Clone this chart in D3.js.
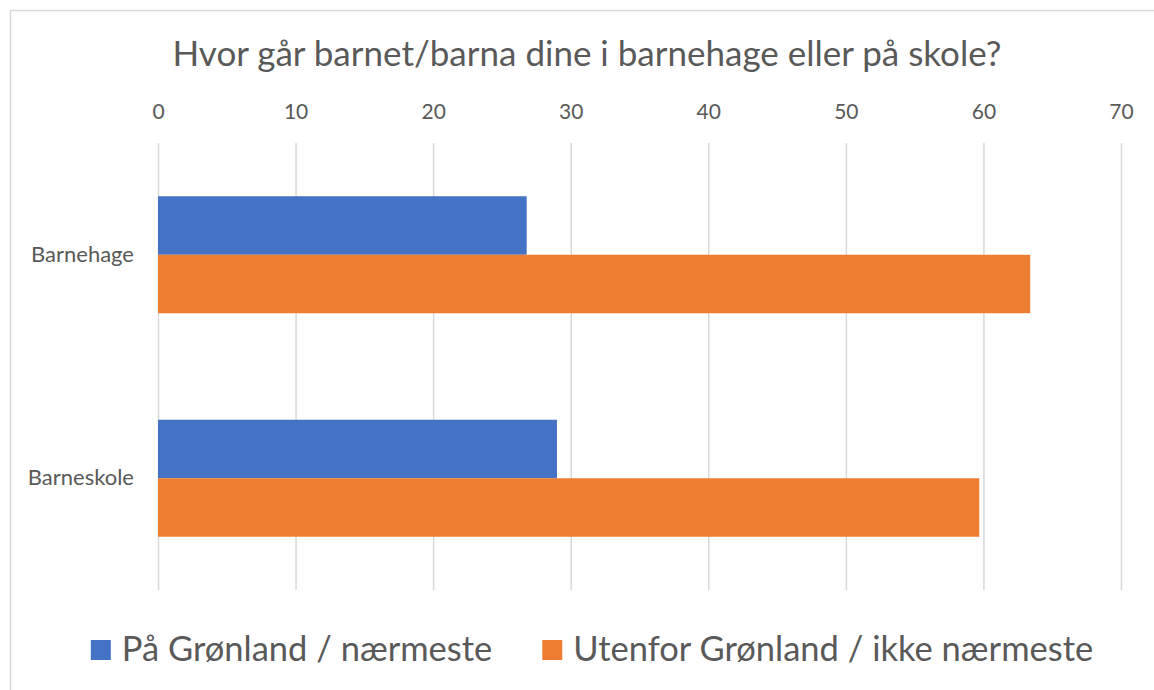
<!DOCTYPE html>
<html>
<head>
<meta charset="utf-8">
<script src="https://cdn.jsdelivr.net/npm/d3@7"></script>
<style>
  body { margin: 0; background: #fff; }
  text { font-family: Lato, "Open Sans", sans-serif; fill: #595959; }
</style>
</head>
<body>
<svg id="chart" width="1154" height="690"></svg>
<script>
// data
var title = "Hvor går barnet/barna dine i barnehage eller på skole?";
var categories = ["Barnehage", "Barneskole"];
var seriesNames = ["På Grønland / nærmeste", "Utenfor Grønland / ikke nærmeste"];
var paaGronland = [26.8, 29.0];
var utenforGronland = [63.4, 59.7];
var xTicks = [0, 10, 20, 30, 40, 50, 60, 70];

var colors = ["#4472C4", "#ED7D31"];
var seriesValues = [paaGronland, utenforGronland];

var svg = d3.select("#chart"),
    margin = {top: 143, right: 33, bottom: 100, left: 158},
    width = +svg.attr("width"),
    height = +svg.attr("height");

// chart border (runs off the right and bottom edge like the original)
svg.append("rect")
    .attr("x", 10.5)
    .attr("y", 10.5)
    .attr("width", width + 20)
    .attr("height", height + 20)
    .attr("fill", "#fff")
    .attr("stroke", "#d9d9d9")
    .attr("stroke-width", 1.5);

var x = d3.scaleLinear()
    .domain([0, 70])
    .range([margin.left, width - margin.right]);

var p = 0.4765;
var y0 = d3.scaleBand()
    .domain(categories)
    .range([margin.top, height - margin.bottom])
    .paddingInner(p)
    .paddingOuter(p / 2);

var y1 = d3.scaleBand()
    .domain(d3.range(seriesNames.length))
    .range([0, y0.bandwidth()]);

// title
svg.append("text")
    .attr("x", 587)
    .attr("y", 66)
    .attr("text-anchor", "middle")
    .attr("font-size", 35)
    .text(title);

// gridlines + top tick labels
var xAxis = d3.axisTop(x)
    .tickValues(xTicks)
    .tickSize(-(height - margin.bottom - margin.top))
    .tickPadding(24);

svg.append("g")
    .attr("class", "x-axis")
    .attr("transform", "translate(0," + margin.top + ")")
    .call(xAxis)
    .call(g => g.select(".domain").remove())
    .call(g => g.selectAll(".tick line").attr("stroke", "#d9d9d9").attr("stroke-width", 1.5))
    .call(g => g.selectAll(".tick text")
        .attr("font-size", 21)
        .attr("font-family", null)
        .attr("fill", "#595959"));

// bars
var groups = svg.append("g")
    .selectAll("g")
    .data(categories)
    .join("g")
    .attr("transform", d => "translate(0," + y0(d) + ")");

groups.selectAll("rect")
    .data((c, ci) => seriesValues.map((vals, si) => ({s: si, v: vals[ci]})))
    .join("rect")
    .attr("x", x(0))
    .attr("y", d => y1(d.s))
    .attr("width", d => x(d.v) - x(0))
    .attr("height", y1.bandwidth())
    .attr("fill", d => colors[d.s]);

// category labels
svg.append("g")
    .selectAll("text")
    .data(categories)
    .join("text")
    .attr("x", 134)
    .attr("y", d => y0(d) + y0.bandwidth() / 2 + 7)
    .attr("text-anchor", "end")
    .attr("font-size", 22)
    .text(d => d);

// legend
var legend = svg.append("g");
var items = legend.selectAll("g")
    .data(seriesNames)
    .join("g");

items.append("rect")
    .attr("y", 640)
    .attr("width", 20)
    .attr("height", 20)
    .attr("fill", (d, i) => colors[i]);

items.append("text")
    .attr("x", 31)
    .attr("y", 661)
    .attr("font-size", 34.5)
    .text(d => d);

var widths = [];
items.each(function() { widths.push(this.getBBox().width); });
var gap = 50;
var total = d3.sum(widths) + gap * (widths.length - 1);
var start = 592 - total / 2, pos = start;
items.attr("transform", function(d, i) {
    var t = "translate(" + pos + ",0)";
    pos += widths[i] + gap;
    return t;
});
</script>
</body>
</html>
